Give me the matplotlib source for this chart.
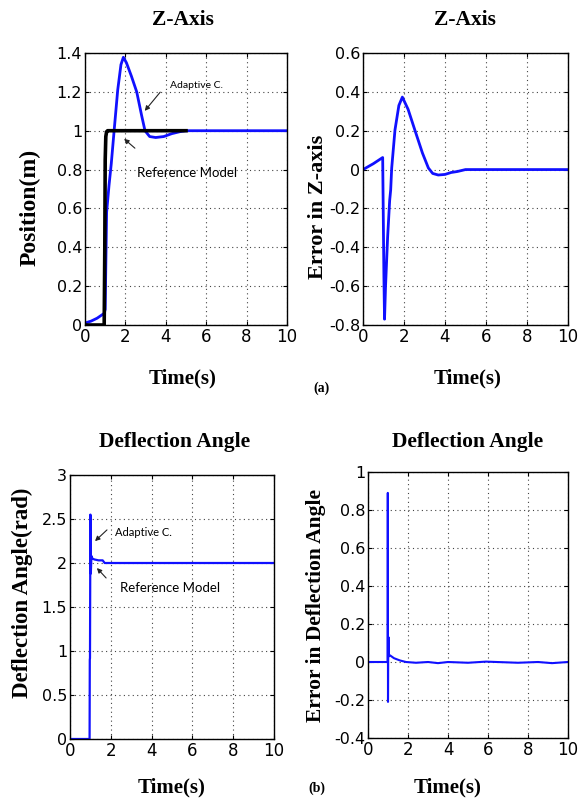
import matplotlib
matplotlib.use("Agg")
import matplotlib.pyplot as plt
from matplotlib import font_manager

W, H = 582, 801

# ---------------- data ----------------
t_pos = [0, 0.3, 0.6, 0.95, 1.0, 1.03, 1.07, 1.19, 1.3, 1.45, 1.62, 1.78, 1.9, 2.05, 2.3, 2.56, 2.8, 2.97, 3.2, 3.5, 3.9, 4.3, 4.7, 5.0, 10]
pos_adaptive = [0.01, 0.02, 0.035, 0.06, 0.08, 0.3, 0.58, 0.72, 0.83, 1.01, 1.21, 1.34, 1.378, 1.35, 1.28, 1.2, 1.08, 1.0, 0.97, 0.965, 0.97, 0.985, 0.995, 1.0, 1.0]
t_ref = [0, 0.95, 0.98, 1.0, 1.03, 1.07, 1.12, 5.0]
pos_reference = [0, 0, 0.4, 0.85, 0.97, 0.995, 1.0, 1.0]

t_err = [0, 0.5, 0.96, 1.02, 1.05, 1.1, 1.2, 1.3, 1.35, 1.4, 1.56, 1.75, 1.92, 2.2, 2.54, 2.9, 3.19, 3.4, 3.67, 4.0, 4.3, 4.6, 5.0, 10]
err_z = [0, 0.03, 0.062, -0.55, -0.77, -0.6, -0.35, -0.16, -0.105, 0.008, 0.204, 0.33, 0.373, 0.31, 0.2, 0.085, 0.008, -0.02, -0.028, -0.025, -0.015, -0.01, 0.0, 0.0]

t_def = [0, 0.96, 0.97, 0.98, 1.0, 1.02, 1.05, 1.1, 1.2, 1.4, 1.6, 1.7, 10]
deflection = [0, 0, 0.9, 0.92, 2.55, 1.88, 2.08, 2.05, 2.04, 2.03, 2.03, 2.0, 2.0]

t_derr = [0, 0.98, 0.99, 1.0, 1.01, 1.03, 1.05, 1.1, 1.3, 1.6, 1.9, 2.4, 3.0, 3.5, 4.0, 5.0, 5.9, 7.5, 8.5, 9.2, 9.6, 10]
err_def = [0, 0, 0.89, -0.21, 0.02, 0.13, 0.03, 0.035, 0.02, 0.008, 0.0, -0.004, 0.0, -0.006, 0.0, -0.004, 0.002, -0.004, 0.0, -0.006, -0.003, 0.0]

xticks = [0, 2, 4, 6, 8, 10]
yticks_pos = [0, 0.2, 0.4, 0.6, 0.8, 1, 1.2, 1.4]
yticks_err = [-0.8, -0.6, -0.4, -0.2, 0, 0.2, 0.4, 0.6]
yticks_def = [0, 0.5, 1, 1.5, 2, 2.5, 3]
yticks_derr = [-0.4, -0.2, 0, 0.2, 0.4, 0.6, 0.8, 1]

# ---------------- fonts ----------------
names = {f.name for f in font_manager.fontManager.ttflist}
tick_font = "Liberation Sans Narrow" if "Liberation Sans Narrow" in names else "DejaVu Sans"
serif = "Liberation Serif"
note_font = "Lato"

BLUE = "#1010ff"

fig = plt.figure(figsize=(W / 100, H / 100), dpi=100)


def ax_px(l, t, r, b):
    return fig.add_axes([l / W, 1 - b / H, (r - l) / W, (b - t) / H])


def fmt(v):
    return "%g" % v


def style(ax, yticks, ylim):
    ax.set_xlim(0, 10)
    ax.set_ylim(*ylim)
    ax.set_xticks(xticks)
    ax.set_yticks(yticks)
    ax.set_xticklabels([fmt(v) for v in xticks], fontfamily=tick_font, fontsize=12)
    ax.set_yticklabels([fmt(v) for v in yticks], fontfamily=tick_font, fontsize=11.5)
    ax.tick_params(direction="in", length=3, width=0.8, top=True, right=True, pad=2)
    ax.grid(True, color="#444444", linestyle=(0, (1, 3)), linewidth=0.8)
    for s in ax.spines.values():
        s.set_linewidth(1.0)
        s.set_color("black")


def ftext(x, y, s, **kw):
    fig.text(x / W, 1 - y / H, s, **kw)


# Top-left
ax1 = ax_px(85, 53, 287, 325)
ax1.plot(t_pos, pos_adaptive, color=BLUE, lw=2.0)
ax1.plot(t_ref, pos_reference, color="black", lw=2.6)
style(ax1, yticks_pos, (0, 1.4))

# Top-right
ax2 = ax_px(363, 53, 568, 325)
ax2.plot(t_err, err_z, color=BLUE, lw=2.0)
style(ax2, yticks_err, (-0.8, 0.6))

# Bottom-left
ax3 = ax_px(70, 475, 274, 739)
ax3.plot(t_def, deflection, color=BLUE, lw=1.6)
style(ax3, yticks_def, (0, 3))

# Bottom-right
ax4 = ax_px(368, 472, 568, 738)
ax4.plot(t_derr, err_def, color=BLUE, lw=1.5)
style(ax4, yticks_derr, (-0.4, 1))

tkw = dict(fontfamily=serif, fontweight="bold", ha="center", va="center")
ftext(183, 20, "Z-Axis", fontsize=15.5, **tkw)
ftext(465, 20, "Z-Axis", fontsize=15.5, **tkw)
ftext(175, 442, "Deflection Angle", fontsize=15.5, **tkw)
ftext(468, 442, "Deflection Angle", fontsize=15.5, **tkw)

ftext(183, 378, "Time(s)", fontsize=15, **tkw)
ftext(468, 378, "Time(s)", fontsize=15, **tkw)
ftext(172, 787, "Time(s)", fontsize=15, **tkw)
ftext(448, 787, "Time(s)", fontsize=15, **tkw)

ftext(30, 207, "Position(m)", fontsize=17, rotation=90, **tkw)
ftext(318, 207, "Error in Z-axis", fontsize=16, rotation=90, **tkw)
ftext(22, 593, "Deflection Angle(rad)", fontsize=16.5, rotation=90, **tkw)
ftext(316, 605, "Error in Deflection Angle", fontsize=15.5, rotation=90, **tkw)

ftext(322, 388, "(a)", fontsize=10, **tkw)
ftext(317, 788, "(b)", fontsize=10, **tkw)

# annotations
nkw = dict(fontfamily=note_font, ha="center", va="center")
ftext(197, 85, "Adaptive C.", fontsize=7.5, **nkw)
ftext(187, 173, "Reference Model", fontsize=9.5, **nkw)
ftext(143, 533, "Adaptive C.", fontsize=8, **nkw)
ftext(170, 588, "Reference Model", fontsize=9.5, **nkw)

akw = dict(arrowstyle="-|>", color="#222222", lw=0.8, mutation_scale=7)


def farrow(x0, y0, x1, y1):
    fig.add_artist(matplotlib.patches.FancyArrowPatch(
        (x0 / W, 1 - y0 / H), (x1 / W, 1 - y1 / H),
        transform=fig.transFigure, **akw))


farrow(162, 90, 143, 113)
farrow(137, 150, 122, 137)
farrow(109, 528, 93, 543)
farrow(108, 580, 95, 566)

fig.savefig("out.png", dpi=100)
